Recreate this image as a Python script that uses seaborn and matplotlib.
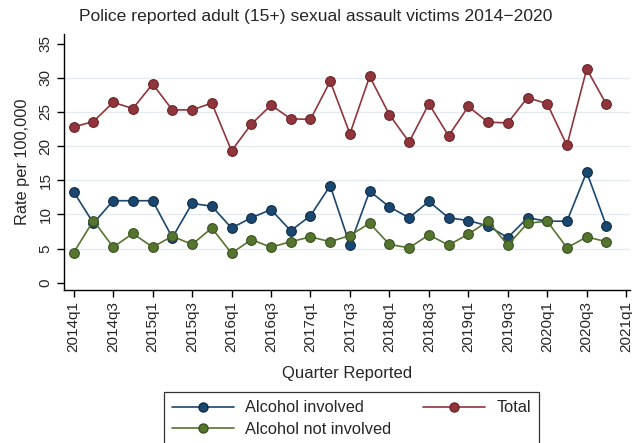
import matplotlib
matplotlib.use("Agg")
import matplotlib.pyplot as plt
import seaborn as sns
import pandas as pd
import numpy as np
from matplotlib.lines import Line2D

quarters = [f"{y}q{q}" for y in range(2014, 2021) for q in range(1, 5)]
alcohol_involved = [13.3, 8.7, 12.0, 12.0, 12.0, 6.6, 11.6, 11.2, 8.0, 9.5, 10.7, 7.6, 9.8, 14.2, 5.5,
                    13.4, 11.1, 9.5, 11.9, 9.5, 9.1, 8.3, 6.6, 9.5, 9.0, 9.0, 16.2, 8.3]
alcohol_not_involved = [4.4, 9.1, 5.2, 7.2, 5.2, 6.8, 5.6, 8.0, 4.3, 6.3, 5.2, 6.0, 6.7, 6.0, 6.9,
                        8.7, 5.6, 5.1, 7.0, 5.5, 7.1, 9.0, 5.5, 8.7, 9.0, 5.1, 6.7, 6.0]
total = [22.8, 23.6, 26.4, 25.5, 29.1, 25.3, 25.3, 26.3, 19.3, 23.2, 26.0, 24.0, 23.9, 29.5, 21.8,
         30.2, 24.6, 20.6, 26.2, 21.5, 25.8, 23.5, 23.4, 27.1, 26.2, 20.1, 31.3, 26.1]
tick_labels = ["2014q1", "2014q3", "2015q1", "2015q3", "2016q1", "2016q3", "2017q1", "2017q3",
               "2018q1", "2018q3", "2019q1", "2019q3", "2020q1", "2020q3", "2021q1"]
series_names = ["Alcohol involved", "Alcohol not involved", "Total"]
colors = ["#1a476f", "#55752f", "#90353b"]
edge_colors = ["#0f2c47", "#3a5220", "#6a2429"]

idx = np.arange(len(quarters))
df = pd.DataFrame({
    "q": np.tile(idx, 3),
    "rate": alcohol_involved + alcohol_not_involved + total,
    "series": np.repeat(series_names, len(quarters)),
})

sns.set_style("white")
plt.rcParams["font.family"] = ["Liberation Sans", "DejaVu Sans"]

fig = plt.figure(figsize=(6.32, 4.43), dpi=100)
ax = fig.add_axes([0.101, 0.345, 0.896, 0.578])

for name, c, ec in zip(series_names, colors, edge_colors):
    sub = df[df.series == name]
    sns.lineplot(data=sub, x="q", y="rate", ax=ax, color=c, marker="o", markersize=7,
                 markeredgecolor=ec, markeredgewidth=0.8, linewidth=1.2, label=name,
                 legend=False)

ax.set_xlim(-0.5, 28.2)
ax.set_ylim(-1.1, 36.4)
ax.set_xticks(np.arange(0, 29, 2))
ax.set_xticklabels(tick_labels, rotation=90, fontsize=11)
ax.set_yticks(np.arange(0, 36, 5))
ax.set_yticklabels([str(v) for v in range(0, 36, 5)], rotation=90, va="center", fontsize=11)
for v in range(5, 31, 5):
    ax.axhline(v, color="#e3ebf0", linewidth=1.0, zorder=0)

for s in ["top", "right"]:
    ax.spines[s].set_visible(False)
for s in ["left", "bottom"]:
    ax.spines[s].set_color("black")
    ax.spines[s].set_linewidth(1.0)
ax.tick_params(axis="both", which="major", length=5, width=1, color="black", direction="out",
               left=True, bottom=True, pad=3)

ax.set_xlabel("Quarter Reported", fontsize=12, labelpad=10)
ax.set_ylabel("Rate per 100,000", fontsize=11.8, labelpad=6)
fig.text(0.5, 1 - 17 / 443, "Police reported adult (15+) sexual assault victims 2014\u22122020",
         fontsize=12.6, ha="center", va="center")

handles = [Line2D([0], [0], color=c, marker="o", markersize=6.5, markeredgecolor=ec,
                  linewidth=1.2) for c, ec in zip(colors, edge_colors)]
leg = fig.legend(handles, series_names, ncol=2, loc="upper center", bbox_to_anchor=(0.556, 0.115),
                 frameon=True, fontsize=11.8, handlelength=3.8, handletextpad=0.7,
                 columnspacing=1.9, borderpad=0.5, labelspacing=0.4, borderaxespad=0,
                 fancybox=False, edgecolor="black")
leg.get_frame().set_linewidth(0.9)

fig.savefig("out.png", dpi=100)
